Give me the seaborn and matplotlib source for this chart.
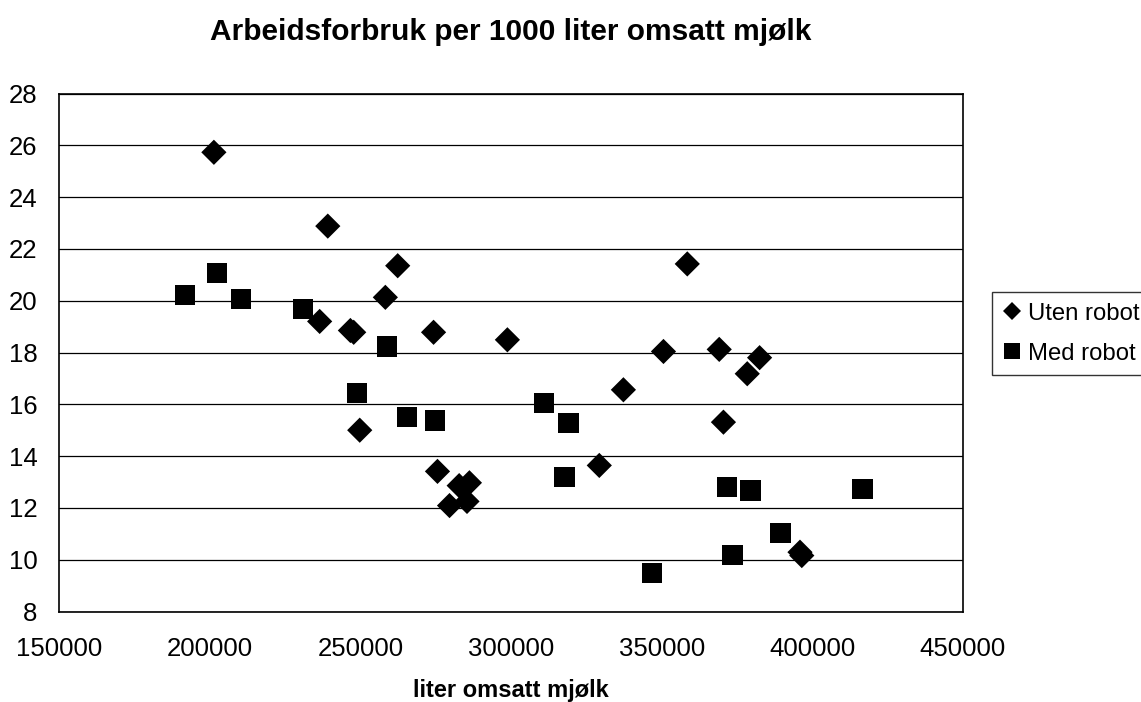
import matplotlib
matplotlib.use("Agg")
import matplotlib.pyplot as plt
import pandas as pd
import seaborn as sns
from matplotlib.lines import Line2D

title = "Arbeidsforbruk per 1000 liter omsatt mjølk"
x_label = "liter omsatt mjølk"
groups = ["Uten robot", "Med robot"]

uten_x = [201400, 239200, 236500, 258300, 262400, 246700, 247800, 274300, 298800,
          249800, 275600, 282800, 286200, 279600, 285400, 329300, 337300, 358500,
          350600, 369100, 382500, 378400, 370500, 395900, 396500]
uten_y = [25.73, 22.88, 19.20, 20.13, 21.35, 18.85, 18.78, 18.78, 18.49,
          15.00, 13.41, 12.86, 12.97, 12.09, 12.25, 13.64, 16.56, 21.42,
          18.04, 18.12, 17.80, 17.18, 15.31, 10.29, 10.16]

med_x = [191800, 202500, 210500, 231000, 258800, 248900, 265500, 274700, 311000,
         319100, 317700, 346700, 371600, 379500, 416600, 389400, 373500]
med_y = [20.23, 21.08, 20.07, 19.69, 18.23, 16.44, 15.50, 15.37, 16.06,
         15.29, 13.20, 9.49, 12.80, 12.67, 12.74, 11.04, 10.19]

x_ticks = [150000, 200000, 250000, 300000, 350000, 400000, 450000]
y_ticks = [8, 10, 12, 14, 16, 18, 20, 22, 24, 26, 28]

df = pd.concat([
    pd.DataFrame({"liter": uten_x, "arbeid": uten_y, "gruppe": groups[0]}),
    pd.DataFrame({"liter": med_x, "arbeid": med_y, "gruppe": groups[1]}),
], ignore_index=True)

sns.set_style("white")
plt.rcParams["font.family"] = ["Liberation Sans", "DejaVu Sans"]
plt.rcParams["text.color"] = "black"

fig = plt.figure(figsize=(11.41, 7.02), dpi=100)
ax = fig.add_axes([59 / 1141, 1 - 611.5 / 702, (963 - 59) / 1141, (611.5 - 93.5) / 702])

sns.scatterplot(data=df, x="liter", y="arbeid", style="gruppe", size="gruppe",
                markers={"Uten robot": "D", "Med robot": "s"},
                sizes={"Uten robot": 165, "Med robot": 215},
                color="black", edgecolor="none", linewidth=0, legend=False, ax=ax, zorder=3)

ax.set_xlim(x_ticks[0], x_ticks[-1])
ax.set_ylim(y_ticks[0], y_ticks[-1])
ax.set_xticks(x_ticks)
ax.set_xticklabels([str(v) for v in x_ticks])
ax.set_yticks(y_ticks)
ax.set_yticklabels([str(v) for v in y_ticks])
ax.yaxis.grid(True, color="black", linewidth=0.9)
ax.set_axisbelow(True)
for spine in ax.spines.values():
    spine.set_color("black")
    spine.set_linewidth(1.2)
ax.tick_params(axis="both", direction="out", length=5.5, width=1, color="#808080",
               labelsize=18.5, labelcolor="black")
ax.tick_params(axis="x", pad=13)
ax.tick_params(axis="y", pad=10)
ax.set_xlabel("")
ax.set_ylabel("")

fig.text(511 / 1141, 1 - 32 / 702, title, ha="center", va="center",
         fontsize=21.5, fontweight="bold", color="black")
fig.text(511 / 1141, 1 - 690 / 702, x_label, ha="center", va="center",
         fontsize=17, fontweight="bold", color="black")

handles = [
    Line2D([], [], marker="D", linestyle="none", color="black", markersize=9, markeredgewidth=0),
    Line2D([], [], marker="s", linestyle="none", color="black", markersize=11, markeredgewidth=0),
]
leg = fig.legend(handles, groups, loc="upper left", bbox_to_anchor=(992 / 1141, 1 - 292 / 702),
                 fontsize=17.2, frameon=True, fancybox=False, edgecolor="black",
                 handlelength=0.8, handletextpad=0.25, borderpad=0.45, labelspacing=0.75,
                 borderaxespad=0, labelcolor="black")
leg.get_frame().set_linewidth(1.0)

fig.savefig("out.png", dpi=100)
